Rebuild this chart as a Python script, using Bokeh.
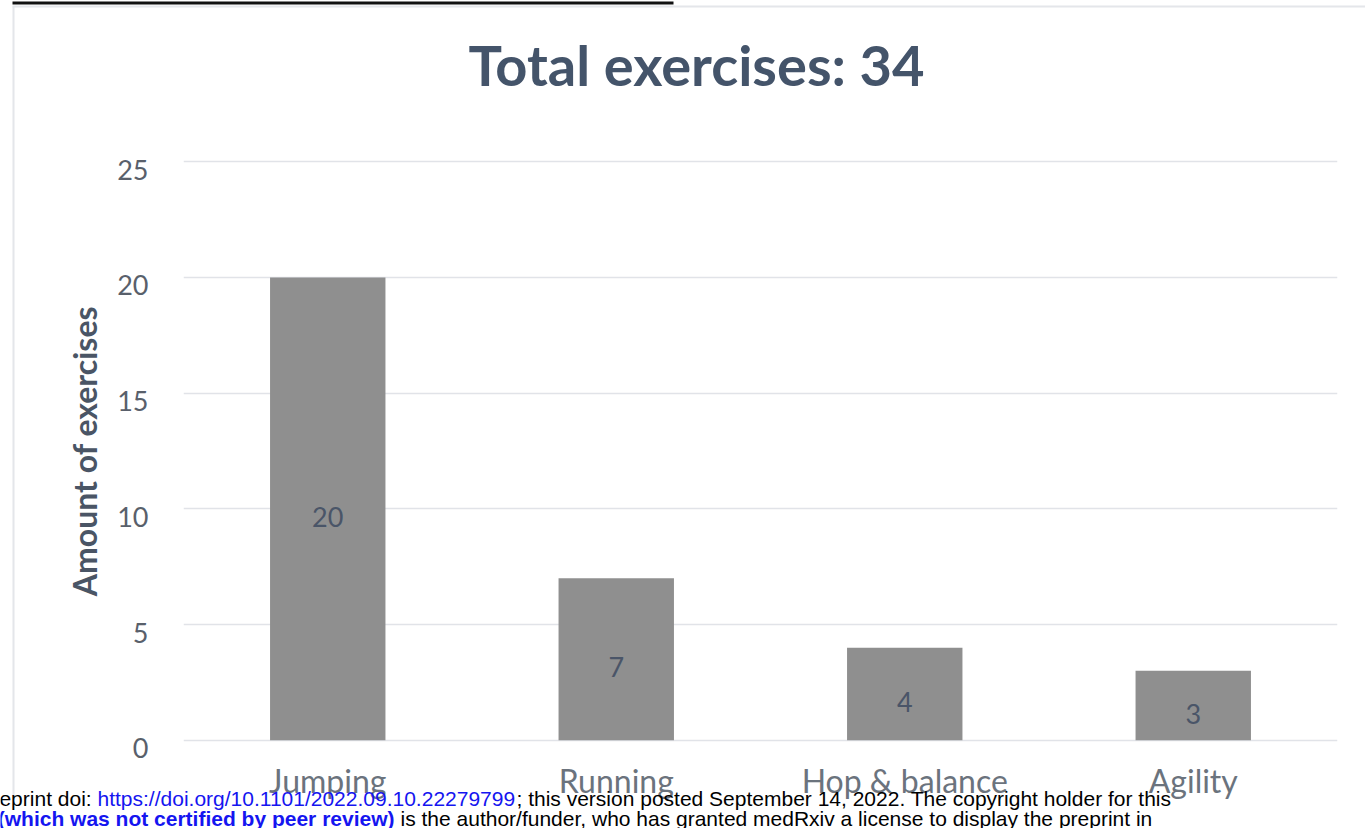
from bokeh.plotting import figure
from bokeh.models import (ColumnDataSource, FactorRange, Range1d, LinearAxis,
                          LabelSet, FixedTicker)
from bokeh.core.properties import value
from bokeh.embed import file_html
from bokeh.resources import INLINE

# ---- data ----
categories = ["Jumping", "Running", "Hop & balance", "Agility"]
counts = [20, 7, 4, 3]
y_ticks = [0, 5, 10, 15, 20, 25]
title_text = "Total exercises: 34"
y_label = "Amount of exercises"

footer_texts = [
    "eprint doi: ",
    "https://doi.org/10.1101/2022.09.10.22279799",
    "; this version posted September 14, 2022. The copyright holder for this",
    "(which was not certified by peer review)",
    "is the author/funder, who has granted medRxiv a license to display the preprint in",
]

src = ColumnDataSource(dict(cat=categories, n=counts,
                            mid=[c / 2 for c in counts],
                            lab=[str(c) for c in counts]))

FONT = "Lato"
W, H = 1365, 828

# ---------------- main chart ----------------
p = figure(x_range=FactorRange(*categories, range_padding=0),
           y_range=Range1d(-0.4, 25.4),
           width=W, height=H, output_backend="svg", toolbar_location=None,
           min_border_left=183, min_border_right=28,
           min_border_top=152, min_border_bottom=79)
p.outline_line_color = None
p.background_fill_color = "white"
p.border_fill_color = "white"

p.vbar(x="cat", top="n", bottom=0, width=0.4, source=src,
       fill_color="#8F8F8F", line_color=None)

p.add_layout(LabelSet(x="cat", y="mid", text="lab", source=src,
                      text_align="center", text_baseline="middle", y_offset=-8,
                      text_font=value(FONT), text_font_size="27px",
                      text_color="#4A5568"))

p.xgrid.grid_line_color = None
p.ygrid.ticker = FixedTicker(ticks=y_ticks)
p.ygrid.grid_line_color = "#E1E3E8"
p.ygrid.grid_line_width = 1.6

# default y axis hidden; labelled axis on a range shifted so labels sit a bit below gridlines
p.yaxis.visible = False
p.extra_y_ranges = {"lab": Range1d(-0.4 + 0.345, 25.4 + 0.345)}
ya = LinearAxis(y_range_name="lab", ticker=FixedTicker(ticks=y_ticks),
                axis_label=y_label)
ya.axis_line_color = None
ya.major_tick_line_color = None
ya.minor_tick_line_color = None
ya.major_label_standoff = 29
ya.major_label_text_font = FONT
ya.major_label_text_font_size = "27px"
ya.major_label_text_color = "#59606B"
ya.axis_label_text_font = FONT
ya.axis_label_text_font_style = "bold"
ya.axis_label_text_font_size = "32px"
ya.axis_label_text_color = "#4A5565"
ya.axis_label_standoff = 10
p.add_layout(ya, "left")

xa = p.xaxis[0]
xa.axis_line_color = None
xa.major_tick_line_color = None
xa.minor_tick_line_color = None
xa.major_label_standoff = 5
xa.major_label_text_font = FONT
xa.major_label_text_font_size = "32px"
xa.major_label_text_color = "#6B737D"

# ---------------- transparent overlay (title and page furniture) ----------------
ov = figure(x_range=Range1d(0, W), y_range=Range1d(H, 0), width=W, height=H,
            output_backend="svg", toolbar_location=None,
            x_axis_type=None, y_axis_type=None,
            min_border=0, min_border_left=0, min_border_right=0,
            min_border_top=0, min_border_bottom=0)
ov.outline_line_color = None
ov.background_fill_alpha = 0
ov.border_fill_alpha = 0
ov.grid.visible = False
ov.styles = {"position": "absolute", "top": "0px", "left": "0px"}

# chart box borders and the cut page rule above it
ov.segment(x0=[12, 13], y0=[6, 6], x1=[1365, 13], y1=[6, 795],
           line_color="#E4E6EA", line_width=2)
ov.segment(x0=[12], y0=[2.5], x1=[673], y1=[2.5], line_color="#111111", line_width=3)

# chart title
ov.text(x=[696], y=[64], text=[title_text], text_align="center",
        text_baseline="alphabetic", text_font=value(FONT), text_font_style="bold",
        text_font_size="56px", text_color="#44546A")

# preprint footer overlapping the page
fsrc = ColumnDataSource(dict(
    x=[97, 97, 516, 394, 400],
    y=[798, 798, 798, 818, 818],
    text=footer_texts,
    align=["right", "left", "left", "right", "left"],
    style=["normal", "normal", "normal", "bold", "normal"],
    color=["black", "#1515F0", "black", "#1515F0", "black"],
))
ov.text(x="x", y="y", text="text", source=fsrc, text_align="align",
        text_baseline="alphabetic", text_font=value("Liberation Sans"),
        text_font_style="style", text_font_size="21px", text_color="color")

open("out.html", "w").write(file_html([p, ov], INLINE))
